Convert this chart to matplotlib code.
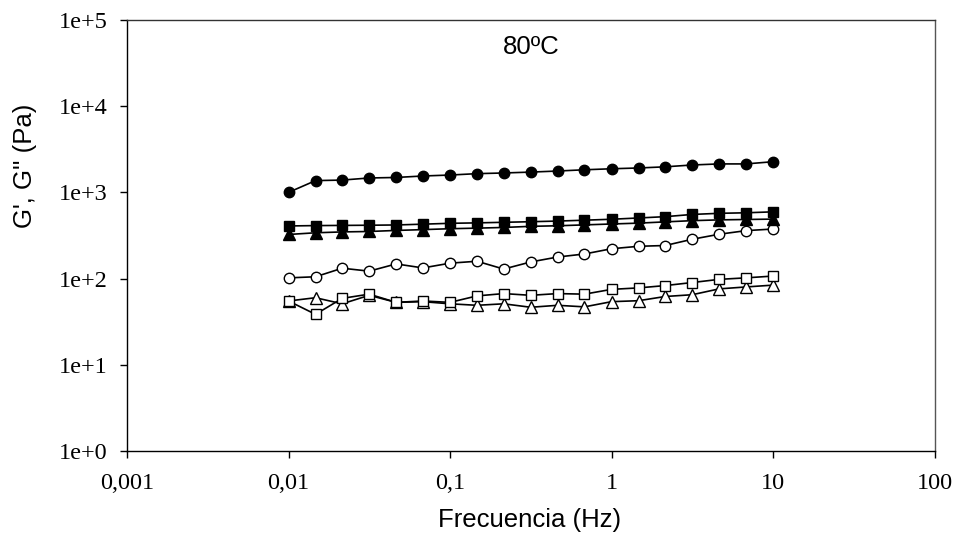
import numpy as np
import matplotlib
matplotlib.use('Agg')
import matplotlib.pyplot as plt
from matplotlib.ticker import FixedLocator, FixedFormatter, NullLocator

# Frequency sweep (Hz), 6 points per decade
freq = [0.01, 0.0147, 0.0215, 0.0316, 0.0464, 0.068, 0.1, 0.147, 0.215, 0.316,
        0.464, 0.68, 1, 1.47, 2.15, 3.16, 4.64, 6.8, 10]

# G' / G'' series (Pa)
filled_circle = [1000, 1370, 1390, 1470, 1490, 1550, 1590, 1650, 1680, 1720,
                 1770, 1830, 1880, 1920, 1980, 2080, 2140, 2140, 2270]
filled_square = [408, 412, 414, 416, 419, 428, 438, 443, 450, 457,
                 465, 476, 488, 505, 523, 555, 572, 580, 595]
filled_triangle = [325, 340, 348, 352, 362, 370, 379, 385, 392, 404,
                   410, 420, 430, 440, 455, 470, 480, 485, 490]
open_circle = [102, 105, 132, 122, 148, 133, 151, 159, 129, 156,
               178, 193, 222, 237, 242, 286, 327, 360, 376]
open_square = [55, 38.5, 59, 66, 53, 55, 53, 63, 67, 64,
               67, 66, 75, 78, 83, 90, 98, 102, 107]
open_triangle = [55, 60, 51, 64, 53, 54, 51, 49, 51, 46.5,
                 49, 47, 54, 55.4, 62, 65, 76, 80, 84]

x_ticks = [0.001, 0.01, 0.1, 1, 10, 100]
x_ticklabels = ['0,001', '0,01', '0,1', '1', '10', '100']
y_ticks = [1, 10, 100, 1000, 10000, 100000]
y_ticklabels = ['1e+0', '1e+1', '1e+2', '1e+3', '1e+4', '1e+5']

serif = ['Liberation Serif', 'DejaVu Serif']
sans = ['Liberation Sans', 'DejaVu Sans']

fig = plt.figure(figsize=(9.57, 5.48), dpi=100, facecolor='white')
ax = fig.add_axes([127 / 957, 1 - 451 / 548, (934.5 - 127) / 957, (451 - 20) / 548])

line_kw = dict(color='black', linewidth=1.2, markeredgecolor='black', markeredgewidth=1.0)
# open series first, filled ones on top
ax.plot(freq, open_triangle, marker='^', markersize=8.5, markerfacecolor='white', **line_kw)
ax.plot(freq, open_square, marker='s', markersize=7.5, markerfacecolor='white', **line_kw)
ax.plot(freq, open_circle, marker='o', markersize=7.5, markerfacecolor='white', **line_kw)
ax.plot(freq, filled_triangle, marker='^', markersize=8.5, markerfacecolor='black', **line_kw)
ax.plot(freq, filled_square, marker='s', markersize=7.5, markerfacecolor='black', **line_kw)
ax.plot(freq, filled_circle, marker='o', markersize=7.5, markerfacecolor='black', **line_kw)

ax.set_xscale('log')
ax.set_yscale('log')
ax.set_xlim(0.001, 100)
ax.set_ylim(1, 100000)

ax.xaxis.set_major_locator(FixedLocator(x_ticks))
ax.xaxis.set_major_formatter(FixedFormatter(x_ticklabels))
ax.yaxis.set_major_locator(FixedLocator(y_ticks))
ax.yaxis.set_major_formatter(FixedFormatter(y_ticklabels))
ax.xaxis.set_minor_locator(NullLocator())
ax.yaxis.set_minor_locator(NullLocator())

ax.tick_params(axis='both', direction='out', length=4.8, width=1.0, color='black')
ax.tick_params(axis='x', pad=11)
ax.tick_params(axis='y', pad=9)
for lab in ax.get_xticklabels() + ax.get_yticklabels():
    lab.set_family(serif)
    lab.set_fontsize(17.5)

ax.spines['left'].set_color('black')
ax.spines['bottom'].set_color('black')
ax.spines['top'].set_color('#333333')
ax.spines['right'].set_color('#555555')
for sp in ax.spines.values():
    sp.set_linewidth(1.0)

ax.text(0.5, 0.9385, '80ºC', transform=ax.transAxes, ha='center', va='center',
        family=sans, fontsize=18.5)

fig.text(530 / 957, 1 - 520 / 548, 'Frecuencia (Hz)', ha='center', va='center',
         family=sans, fontsize=18.5)
fig.text(25 / 957, 1 - 166 / 548, "G', G'' (Pa)", ha='center', va='center',
         rotation=90, family=sans, fontsize=18.5)

fig.savefig('out.png', dpi=100, facecolor='white')
